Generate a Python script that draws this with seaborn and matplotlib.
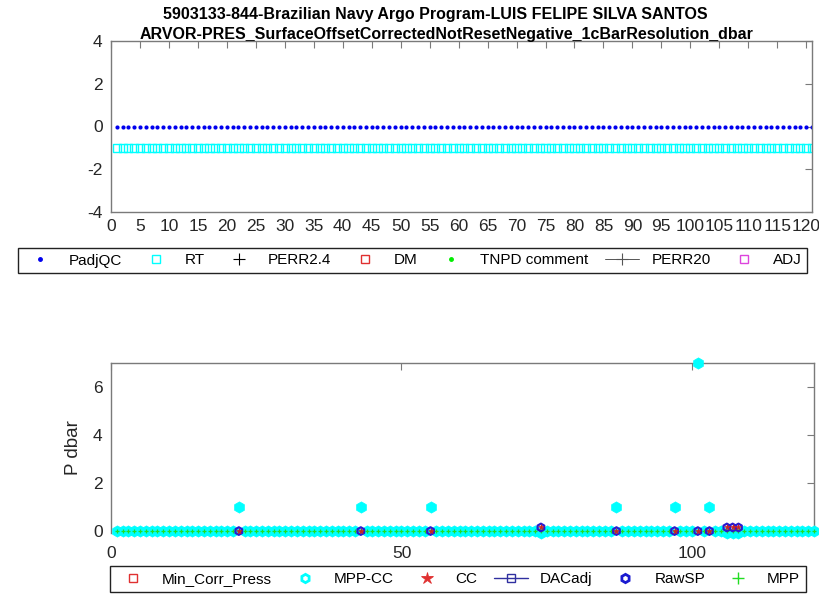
import numpy as np
import pandas as pd
import seaborn as sns
import matplotlib
matplotlib.use("Agg")
import matplotlib.pyplot as plt
from matplotlib.lines import Line2D

sns.set_theme(style="white")
plt.rcParams["font.family"] = ["Liberation Sans", "DejaVu Sans"]
plt.rcParams["axes.unicode_minus"] = False

# ---- data -------------------------------------------------------------
title_line1 = "5903133-844-Brazilian Navy Argo Program-LUIS FELIPE SILVA SANTOS"
title_line2 = "ARVOR-PRES_SurfaceOffsetCorrectedNotResetNegative_1cBarResolution_dbar"

cycles = list(range(1, 122))
padj_qc = [0.0] * 121          # adjusted surface pressure (QC)
rt = [-1.0] * 121              # real-time surface pressure

# surface pressure panel
mpp = [0.0] * 121
spike_cycles = [22, 43, 55, 74, 87, 97, 101, 103, 106, 107, 108]
spike_mpp_cc = [1.0, 1.0, 1.0, -0.1, 1.0, 1.0, 7.0, 1.0, -0.1, -0.1, -0.1]
raw_sp = [0.0, 0.0, 0.0, 0.15, 0.0, 0.0, 0.0, 0.0, 0.15, 0.15, 0.15]
cc = [0.0, 0.0, 0.0, 0.15, 0.0, 0.0, 0.0, 0.0, 0.15, 0.15, 0.15]

mpp_cc = list(mpp)
for c, v in zip(spike_cycles, spike_mpp_cc):
    mpp_cc[c - 1] = v

top_df = pd.DataFrame({"cycle": cycles, "PadjQC": padj_qc, "RT": rt})
bot_df = pd.DataFrame({"cycle": cycles, "MPP": mpp, "MPP-CC": mpp_cc})
sp_df = pd.DataFrame({"cycle": spike_cycles, "RawSP": raw_sp, "CC": cc})

# ---- figure -----------------------------------------------------------
W, H = 820, 597
fig = plt.figure(figsize=(W / 100, H / 100), dpi=100)

def box(l, t, r, b):
    return [l / W, 1 - b / H, (r - l) / W, (b - t) / H]

spine_col = "#7a7a7a"
txt_col = "#262626"
CYAN = "#00ffff"

def style_axes(ax):
    for s in ax.spines.values():
        s.set_color(spine_col)
        s.set_linewidth(1.0)
        s.set_visible(True)
    ax.tick_params(direction="in", top=True, right=True, length=5, width=0.8,
                   color=spine_col, labelsize=12.5, labelcolor=txt_col)
    ax.tick_params(axis="x", pad=5)
    ax.tick_params(axis="y", pad=6)

# top panel
ax1 = fig.add_axes(box(111, 41, 812, 212))
sns.scatterplot(data=top_df, x="cycle", y="RT", ax=ax1, marker="s", s=34,
                facecolor="none", edgecolor=CYAN, linewidth=1.0, legend=False)
sns.scatterplot(data=top_df, x="cycle", y="PadjQC", ax=ax1, marker="o", s=9,
                color="#0000ee", edgecolor="#0000ee", linewidth=0, legend=False)
ax1.set_xlim(0, 121)
ax1.set_ylim(-4, 4)
ax1.set_xticks(range(0, 121, 5))
ax1.set_yticks([-4, -2, 0, 2, 4])
ax1.set_xlabel("")
ax1.set_ylabel("")
style_axes(ax1)

fig.text(435 / W, 1 - 15 / H, title_line1, ha="center", va="center",
         fontsize=11.5, fontweight="bold", color="#000000")
fig.text(447 / W, 1 - 34 / H, title_line2, ha="center", va="center",
         fontsize=11.5, fontweight="bold", color="#000000")

top_handles = [
    Line2D([], [], ls="none", marker="o", ms=2.5, color="#0000ee"),
    Line2D([], [], ls="none", marker="s", ms=6, mfc="none", mec=CYAN),
    Line2D([], [], ls="none", marker="+", ms=9, color="#000000", mew=0.8),
    Line2D([], [], ls="none", marker="s", ms=6, mfc="none", mec="#e03030"),
    Line2D([], [], ls="none", marker="o", ms=2.5, color="#00ee00"),
    Line2D([], [], ls="-", marker="+", ms=9, color="#555555", lw=0.7, mew=0.8),
    Line2D([], [], ls="none", marker="s", ms=6, mfc="none", mec="#dd44dd"),
]
top_labels = ["PadjQC", "RT", "PERR2.4", "DM", "TNPD comment", "PERR20", "ADJ"]
fig.legend(top_handles, top_labels, loc="center", ncol=7, mode="expand",
           bbox_to_anchor=(10 / W, 1 - 272 / H, 805 / W, 23 / H),
           frameon=True, fancybox=False, edgecolor="#222222", framealpha=1,
           fontsize=11, handlelength=2.2, handletextpad=0.8, borderpad=0.35,
           labelcolor="#000000")

# bottom panel
ax2 = fig.add_axes(box(111, 363, 814, 533))
sns.scatterplot(data=bot_df, x="cycle", y="MPP-CC", ax=ax2, marker="h", s=66,
                color=CYAN, edgecolor=CYAN, linewidth=0.5, legend=False,
                clip_on=False, zorder=3)
sns.scatterplot(data=bot_df, x="cycle", y="MPP", ax=ax2, marker="+", s=12,
                color="#22dd22", linewidth=0.9, legend=False, clip_on=False, zorder=4)
sns.scatterplot(data=sp_df, x="cycle", y="RawSP", ax=ax2, marker="h", s=30,
                facecolor="none", edgecolor="#2a1ad0", linewidth=1.6, legend=False,
                clip_on=False, zorder=5)
sns.scatterplot(data=sp_df, x="cycle", y="CC", ax=ax2, marker="*", s=16,
                color="#cc2222", edgecolor="#cc2222", linewidth=0.5, legend=False,
                clip_on=False, zorder=6)
ax2.set_xlim(0, 121)
ax2.set_ylim(-0.08, 7)
ax2.set_xticks([0, 50, 100])
ax2.set_yticks([0, 2, 4, 6])
ax2.set_xlabel("")
ax2.set_ylabel("P dbar", fontsize=13.5, color=txt_col, labelpad=8)
style_axes(ax2)
ax2.spines["bottom"].set_visible(False)
ax2.tick_params(axis="x", bottom=False, top=True, pad=9)

bot_handles = [
    Line2D([], [], ls="none", marker="s", ms=6, mfc="none", mec="#e03030"),
    Line2D([], [], ls="none", marker="h", ms=6, mfc="white", mec=CYAN, mew=2),
    Line2D([], [], ls="none", marker="*", ms=9, color="#e03030", mew=0.6),
    Line2D([], [], ls="-", marker="s", ms=6, mfc="none", mec="#3030a0",
           color="#3030a0", lw=1),
    Line2D([], [], ls="none", marker="h", ms=6, mfc="white", mec="#1a1ad0", mew=2),
    Line2D([], [], ls="none", marker="+", ms=9, color="#22dd22", mew=1),
]
bot_labels = ["Min_Corr_Press", "MPP-CC", "CC", "DACadj", "RawSP", "MPP"]
fig.legend(bot_handles, bot_labels, loc="center", ncol=6, mode="expand",
           bbox_to_anchor=(102 / W, 1 - 592 / H, 712 / W, 26 / H),
           frameon=True, fancybox=False, edgecolor="#222222", framealpha=1,
           fontsize=11, handlelength=2.2, handletextpad=0.8, borderpad=0.4,
           labelcolor="#000000")

fig.savefig("out.png", dpi=100)
